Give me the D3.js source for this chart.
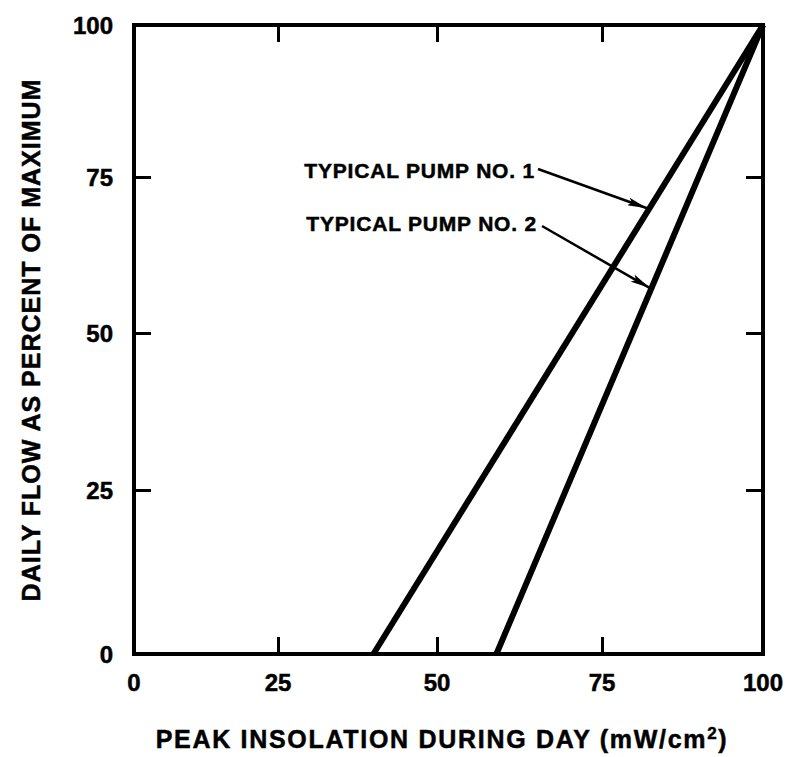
<!DOCTYPE html>
<html>
<head>
<meta charset="utf-8">
<script src="https://cdn.jsdelivr.net/npm/d3@7"></script>
<style>
  html, body { margin: 0; padding: 0; background: #fff; }
  svg { display: block; }
  text { font-family: "Liberation Sans", Arial, Helvetica, sans-serif; font-weight: bold; fill: #000; stroke: #000; stroke-width: 0.5px; }
</style>
</head>
<body>
<svg id="chart" width="788" height="757"></svg>
<script>
// Axis ticks (insolation in mW/cm², flow in percent of maximum)
const xTicks = [0, 25, 50, 75, 100];
const yTicks = [0, 25, 50, 75, 100];

// Pump curves: straight lines from the threshold insolation up to full flow
const pumpNames = ["TYPICAL PUMP NO. 1", "TYPICAL PUMP NO. 2"];
const pump1 = [[40, 0], [100, 100]];
const pump2 = [[59, 0], [100, 100]];

// Callout arrow targets on each curve (insolation value)
const calloutX = [82, 82.45];

const svg = d3.select("#chart");

// Piecewise scales follow the spacing of the printed tick marks
const x = d3.scaleLinear().domain(xTicks).range([134, 278, 437, 602, 763]);
const y = d3.scaleLinear().domain(yTicks).range([654, 490, 333, 177, 25]);

const x0 = x(0), x1 = x(100), y0 = y(0), y1 = y(100);

// Arrow marker
svg.append("defs").append("marker")
  .attr("id", "head")
  .attr("viewBox", "0 0 20 8")
  .attr("refX", 20).attr("refY", 4)
  .attr("markerWidth", 20).attr("markerHeight", 8)
  .attr("markerUnits", "userSpaceOnUse")
  .attr("orient", "auto")
  .append("path").attr("d", "M0,0 L20,4 L0,8 L4,4 Z").attr("fill", "#000");

// Frame built from four axes with inward ticks
const tickLen = 17;
const frame = svg.append("g");
function styleAxis(g) {
  g.select(".domain").remove();
  g.selectAll(".tick line").attr("stroke", "#000").attr("stroke-width", 3);
  g.selectAll(".tick text").remove();
}
frame.append("g").attr("transform", `translate(0,${y0})`)
  .call(d3.axisBottom(x).tickValues(xTicks.slice(1, -1)).tickSizeInner(-tickLen).tickSizeOuter(0)).call(styleAxis);
frame.append("g").attr("transform", `translate(0,${y1})`)
  .call(d3.axisTop(x).tickValues(xTicks.slice(1, -1)).tickSizeInner(-tickLen).tickSizeOuter(0)).call(styleAxis);
frame.append("g").attr("transform", `translate(${x0},0)`)
  .call(d3.axisLeft(y).tickValues(yTicks.slice(1, -1)).tickSizeInner(-tickLen).tickSizeOuter(0)).call(styleAxis);
frame.append("g").attr("transform", `translate(${x1},0)`)
  .call(d3.axisRight(y).tickValues(yTicks.slice(1, -1)).tickSizeInner(-tickLen).tickSizeOuter(0)).call(styleAxis);

frame.append("rect")
  .attr("x", x0).attr("y", y1)
  .attr("width", x1 - x0).attr("height", y0 - y1)
  .attr("fill", "none").attr("stroke", "#000").attr("stroke-width", 4);

// Tick labels
svg.append("g").selectAll("text").data(xTicks).join("text")
  .attr("x", d => x(d)).attr("y", y0 + 37)
  .attr("text-anchor", "middle")
  .style("font-size", "24px")
  .text(d => d);

svg.append("g").selectAll("text").data(yTicks).join("text")
  .attr("x", 113).attr("y", d => y(d))
  .attr("dy", "0.36em")
  .attr("text-anchor", "end")
  .style("font-size", "24px")
  .text(d => d);

// Pump lines
const line = d3.line().x(d => x(d[0])).y(d => y(d[1]));
svg.append("g").selectAll("path").data([pump1, pump2]).join("path")
  .attr("d", line)
  .attr("fill", "none").attr("stroke", "#000")
  .attr("stroke-width", 6).attr("stroke-linecap", "butt");

// Callout labels and arrows
function flowAt(p, xv) {
  const [a, b] = p;
  return a[1] + (xv - a[0]) * (b[1] - a[1]) / (b[0] - a[0]);
}
const callouts = [
  { name: pumpNames[0], pump: pump1, tx: 535, ty: 178, sx: 538, sy: 169, xv: calloutX[0] },
  { name: pumpNames[1], pump: pump2, tx: 537, ty: 231, sx: 542, sy: 226, xv: calloutX[1] }
];
const cg = svg.append("g");
callouts.forEach(c => {
  cg.append("text")
    .attr("x", c.tx).attr("y", c.ty)
    .attr("text-anchor", "end")
    .style("font-size", "21px")
    .style("letter-spacing", "0.8px")
    .text(c.name);
  cg.append("line")
    .attr("x1", c.sx).attr("y1", c.sy)
    .attr("x2", x(c.xv)).attr("y2", y(flowAt(c.pump, c.xv)))
    .attr("stroke", "#000").attr("stroke-width", 2.5)
    .attr("marker-end", "url(#head)");
});

// Axis titles
const xt = svg.append("text")
  .attr("x", 442).attr("y", 748)
  .attr("text-anchor", "middle")
  .style("font-size", "25px")
  .style("letter-spacing", "1.7px");
xt.append("tspan").text("PEAK INSOLATION DURING DAY (mW/cm");
xt.append("tspan").attr("dy", -9).style("font-size", "17px").text("2");
xt.append("tspan").attr("dy", 9).text(")");

svg.append("text")
  .attr("transform", "translate(40,340) rotate(-90)")
  .attr("text-anchor", "middle")
  .style("font-size", "25px")
  .style("letter-spacing", "1px")
  .text("DAILY FLOW AS PERCENT OF MAXIMUM");
</script>
</body>
</html>
